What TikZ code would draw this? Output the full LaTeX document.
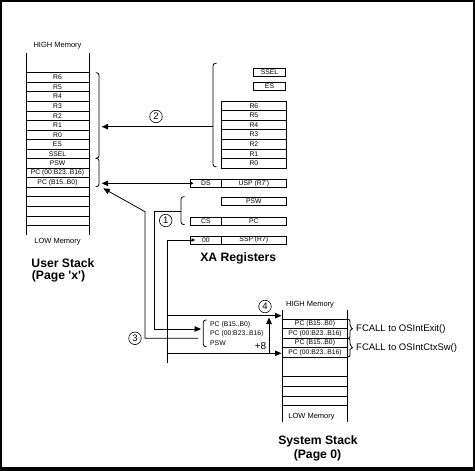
\documentclass[tikz,border=0pt]{standalone}
\usepackage{fontspec}
\setmainfont{Liberation Sans}
\usetikzlibrary{arrows.meta}
\begin{document}
\begin{tikzpicture}[x=1pt,y=-1pt,
  ln/.style={line width=0.8pt},
  reg/.style={draw,line width=0.8pt,rectangle,inner sep=0pt,minimum height=8pt,font=\fontsize{6.8}{7}\selectfont},
  lbl/.style={inner sep=0pt,font=\fontsize{6.8}{7}\selectfont},
  mem/.style={inner sep=0pt,font=\fontsize{7.5}{8}\selectfont},
  ttl/.style={inner sep=0pt,font=\fontsize{12.2}{14}\selectfont\bfseries},
  fcall/.style={inner sep=0pt,anchor=west,font=\fontsize{9.5}{10}\selectfont},
  num/.style={draw,circle,line width=0.6pt,minimum size=12.5pt,inner sep=0pt,fill=white,font=\fontsize{9.5}{9.5}\selectfont},
  tobig/.style={-{Triangle[length=6.5pt,width=5.5pt]}},
  smallbig/.style={{Triangle[length=3.5pt,width=3.5pt]}-{Triangle[length=6.5pt,width=5.5pt]}},
  smallstart/.style={{Triangle[length=3.5pt,width=3.5pt]}-}
]
\useasboundingbox (0,0) rectangle (475,471);
% frame
\fill[black] (0,0) rectangle (475,471);
\fill[white] (2,2) rectangle (472.7,466.7);

% ---------------- User stack ----------------
\draw[ln] (26,53) -- (26,235);
\draw[ln] (89,53) -- (89,235);
\foreach \k in {0,...,16}
  \draw[ln] (26,{72.7+9.55*\k}) -- (89,{72.7+9.55*\k});
\foreach \t [count=\i from 0] in {R6,R5,R4,R3,R2,R1,R0,ES,SSEL,PSW,PC (00:B23..B16),PC (B15..B0)}
  \node[lbl] (us\i) at (57.5,{72.7+9.55*(\i+0.5)}) {\t};
\node[mem] (uhigh) at (57.5,46) {HIGH Memory};
\node[mem] (ulow) at (57.5,242) {LOW Memory};
\node[ttl] (utitle) at (63,263.3) {User Stack};
\node[ttl] (upage) at (58.5,276.5) {(Page \textquotesingle x\textquotesingle)};
% brackets right of user stack
\draw[ln,rounded corners=2.5pt] (95.5,72.7) -- (99,72.7) -- (99,158.3) -- (95.5,158.3);
\draw[ln,rounded corners=2.5pt] (95.5,158.3) -- (99,158.3) -- (99,186.7) -- (95.5,186.7);

% ---------------- XA registers ----------------
\node[reg,minimum width=32pt] (ssel) at (269.5,72) {SSEL};
\node[reg,minimum width=32pt] (es) at (269.5,86.3) {ES};
\foreach \t [count=\i from 0] in {R6,R5,R4,R3,R2,R1,R0}
  \node[reg,minimum width=64.3pt,minimum height=9.6pt] (xr\i) at (253.85,{105.8+9.6*\i}) {\t};
\node[reg,minimum width=31.7pt] (ds) at (205.85,183.3) {DS};
\node[reg,minimum width=64.3pt] (usp) at (253.85,183.3) {USP (R7\textquotesingle)};
\node[reg,minimum width=64.3pt,minimum height=8.5pt] (psw) at (253.85,201.2) {PSW};
\node[reg,minimum width=31.7pt] (cs) at (205.85,221) {CS};
\node[reg,minimum width=64.3pt] (pc) at (253.85,221) {PC};
\node[reg,minimum width=31.7pt] (zz) at (205.85,240) {00};
\node[reg,minimum width=64.3pt] (ssp) at (253.85,240) {SSP (R7)};
\node[ttl] (xatitle) at (238.3,258.3) {XA Registers};
% brackets of registers
\draw[ln,rounded corners=2.5pt] (216.5,63.3) -- (213,63.3) -- (213,166.7) -- (216.5,166.7);
\draw[ln,rounded corners=2.5pt] (184.5,196.7) -- (181,196.7) -- (181,224.5) -- (184.5,224.5);

% ---------------- connectors ----------------
\coordinate (ua) at (101.7,126.7);
\coordinate (rb) at (213,126.7);
\draw[ln,tobig] (rb) -- (ua);
\node[num] (n2) at (156,116.5) {2};

\coordinate (ub) at (101.7,183.3);
\coordinate (dsin) at (193.5,183.3);
\draw[ln,smallbig] (dsin) -- (ub);

\coordinate (c3e) at (198,338.3);
\coordinate (c3a) at (145,338.3);
\coordinate (c3b) at (145,211.7);
\coordinate (uc) at (103.3,188.3);
\draw[ln,tobig] (c3e) -- (c3a) -- (c3b) -- (uc);
\node[num] (n3) at (135,338.3) {3};

\coordinate (c1s) at (181,211.7);
\coordinate (c1a) at (154.3,211.7);
\coordinate (c1b) at (154.3,329);
\coordinate (c1e) at (201,329);
\draw[ln,tobig] (c1s) -- (c1a) -- (c1b) -- (c1e);
\node[num] (n1) at (165.7,220.5) {1};

\coordinate (zin) at (195,240);
\coordinate (s1) at (167.7,240);
\coordinate (s2) at (167.7,362.7);
\coordinate (s3) at (167.7,315.7);
\coordinate (s4) at (167.7,353.3);
\coordinate (t3) at (281.5,315.7);
\coordinate (t4) at (281.5,353.3);
\draw[ln,smallstart] (zin) -- (s1) -- (s2);
\draw[ln,tobig] (s3) -- (t3);
\draw[ln,tobig] (s4) -- (t4);

\coordinate (p8a) at (269,353.3);
\coordinate (p8b) at (269,317.5);
\draw[ln,tobig] (p8a) -- (p8b);
\node[num] (n4) at (265,306.5) {4};

% saved frame contents
\draw[ln,rounded corners=2.5pt] (206.5,320) -- (203.3,320) -- (203.3,346.7) -- (206.5,346.7);
\node[lbl,anchor=west] (f1) at (210,325) {PC (B15..B0)};
\node[lbl,anchor=west] (f2) at (210,334) {PC (00:B23..B16)};
\node[lbl,anchor=west] (f3) at (210,343.3) {PSW};
\node[inner sep=0pt,anchor=east,font=\fontsize{10}{10}\selectfont] (plus8) at (266.5,346.3) {+8};

% ---------------- System stack ----------------
\draw[ln] (282.7,310) -- (282.7,422);
\draw[ln] (347.3,310) -- (347.3,422);
\foreach \yy in {319.3,328.7,338.3,347.7,357,376.7,386.3,396,405.3}
  \draw[ln] (282.7,\yy) -- (347.3,\yy);
\node[lbl] (ss0) at (315,324) {PC (B15..B0)};
\node[lbl] (ss1) at (315,333.5) {PC (00:B23..B16)};
\node[lbl] (ss2) at (315,343) {PC (B15..B0)};
\node[lbl] (ss3) at (315,352.4) {PC (00:B23..B16)};
\node[mem] (shigh) at (310,305) {HIGH Memory};
\node[mem] (slow) at (311.5,416.5) {LOW Memory};
\node[ttl] (stitle) at (318,441) {System Stack};
\node[ttl] (spage) at (317.5,455.5) {(Page 0)};
% braces
\draw[ln] (347.3,319.3) [rounded corners=2pt] -- (350,319.3) -- (350,327) [sharp corners] -- (352.5,328.8) -- (350,330.6) [rounded corners=2pt] -- (350,338.3) -- (347.3,338.3);
\draw[ln] (347.3,338.3) [rounded corners=2pt] -- (350,338.3) -- (350,345.9) [sharp corners] -- (352.5,347.7) -- (350,349.5) [rounded corners=2pt] -- (350,357) -- (347.3,357);
\node[fcall] (fc1) at (356,329) {FCALL to OSIntExit()};
\node[fcall] (fc2) at (356,348.5) {FCALL to OSIntCtxSw()};
\end{tikzpicture}
\end{document}
